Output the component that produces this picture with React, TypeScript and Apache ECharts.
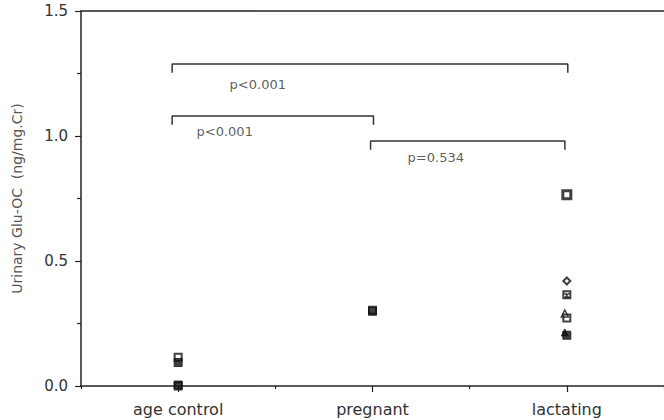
import React, { useEffect, useRef } from "react";
import * as echarts from "echarts";

// Categories along the x axis
const categories = ["age control", "pregnant", "lactating"];

// Y axis tick settings
const yMin = 0;
const yMax = 1.5;
const yInterval = 0.5;

// Marker data: [category index, Urinary Glu-OC value]
const hollowSquares: [number, number][] = [
  [0, 0.115],
  [0, 0.0],
  [1, 0.303],
  [2, 0.365],
  [2, 0.272],
];
const largeHollowSquares: [number, number][] = [[2, 0.765]];
const filledSquares: [number, number][] = [
  [0, 0.094],
  [0, 0.004],
  [1, 0.299],
  [2, 0.203],
];
const hollowDiamonds: [number, number][] = [[2, 0.42]];
const hollowTriangles: [number, number][] = [[2, 0.29]];
const filledTriangles: [number, number][] = [[2, 0.214]];
const crossMarks: [number, number][] = [[2, 0.362]];

// Significance brackets (x from, x to, bracket height, p-value text and its anchor)
const bracketFrom = [-0.031, -0.031, 0.99];
const bracketTo = [2.005, 1.005, 1.99];
const bracketY = [1.288, 1.08, 0.98];
const bracketDrop = 0.035;
const pTexts = ["p<0.001", "p<0.001", "p=0.534"];
const pTextX = [0.262, 0.092, 1.178];
const pTextY = [1.208, 1.02, 0.916];

const FONT = "DejaVu Sans";
const INK = "#222";
const TEXT = "#333";

export default function App() {
  const ref = useRef<HTMLDivElement>(null);

  useEffect(() => {
    if (!ref.current) return;
    const chart = echarts.init(ref.current, undefined, { renderer: "svg" });

    const markerBase = {
      type: "scatter" as const,
      xAxisIndex: 0,
      yAxisIndex: 0,
      z: 5,
    };

    const bracketSeries = bracketFrom.map((x0, i) => ({
      type: "line" as const,
      xAxisIndex: 0,
      yAxisIndex: 0,
      symbol: "none",
      silent: true,
      lineStyle: { color: "#333", width: 1.5 },
      data: [
        [x0, bracketY[i] - bracketDrop],
        [x0, bracketY[i]],
        [bracketTo[i], bracketY[i]],
        [bracketTo[i], bracketY[i] - bracketDrop],
      ],
      z: 3,
    }));

    chart.setOption({
      animation: false,
      backgroundColor: "#fff",
      grid: { left: 81, top: 11, width: 588, height: 375, containLabel: false },
      xAxis: [
        {
          type: "value",
          min: -0.5,
          max: 2.5,
          position: "bottom",
          show: false,
          axisLine: { onZero: false },
        },
        {
          type: "category",
          data: categories,
          position: "bottom",
          boundaryGap: true,
          axisLine: { show: true, onZero: false, lineStyle: { color: INK, width: 1.5 } },
          axisTick: { show: true, length: 3, lineStyle: { color: INK, width: 1.2 } },
          axisLabel: {
            show: true,
            margin: 15,
            fontFamily: FONT,
            fontSize: 16,
            color: TEXT,
          },
          splitLine: { show: false },
        },
        {
          type: "category",
          data: categories,
          position: "bottom",
          boundaryGap: true,
          axisLine: { show: false, onZero: false },
          axisTick: {
            show: true,
            alignWithLabel: true,
            length: 6,
            lineStyle: { color: INK, width: 1.2 },
          },
          axisLabel: { show: false },
          splitLine: { show: false },
        },
        {
          type: "category",
          data: categories,
          position: "top",
          axisLine: { show: true, onZero: false, lineStyle: { color: INK, width: 1.5 } },
          axisTick: { show: false },
          axisLabel: { show: false },
          splitLine: { show: false },
        },
      ],
      yAxis: [
        {
          type: "value",
          min: yMin,
          max: yMax,
          interval: yInterval,
          position: "left",
          name: "Urinary Glu-OC  (ng/mg.Cr)",
          nameLocation: "middle",
          nameGap: 57,
          nameTextStyle: { fontFamily: FONT, fontSize: 14, color: "#555" },
          axisLine: { show: true, onZero: false, lineStyle: { color: INK, width: 1.5 } },
          axisTick: { show: true, length: 6, lineStyle: { color: INK, width: 1.2 } },
          minorTick: {
            show: true,
            splitNumber: 2,
            length: 4,
            lineStyle: { color: INK, width: 1.2 },
          },
          axisLabel: {
            margin: 13,
            fontFamily: FONT,
            fontSize: 15,
            color: TEXT,
            formatter: (v: number) => v.toFixed(1),
          },
          splitLine: { show: false },
          minorSplitLine: { show: false },
        },
      ],
      series: [
        ...bracketSeries,
        {
          type: "scatter",
          xAxisIndex: 0,
          yAxisIndex: 0,
          symbolSize: 1,
          silent: true,
          itemStyle: { color: "rgba(0,0,0,0)" },
          label: {
            show: true,
            position: "right",
            distance: 0,
            fontFamily: FONT,
            fontSize: 13,
            color: TEXT,
            formatter: (p: any) => p.name,
          },
          data: pTexts.map((t, i) => ({ name: t, value: [pTextX[i], pTextY[i]] })),
          z: 4,
        },
        {
          ...markerBase,
          symbol: "rect",
          symbolSize: 8,
          itemStyle: { color: "#111", borderColor: "#111", borderWidth: 1 },
          data: filledSquares,
        },
        {
          ...markerBase,
          symbol: "rect",
          symbolSize: 7,
          itemStyle: { color: "rgba(255,255,255,0)", borderColor: "#111", borderWidth: 2 },
          data: hollowSquares,
          z: 6,
        },
        {
          ...markerBase,
          symbol: "rect",
          symbolSize: 8,
          itemStyle: { color: "#fff", borderColor: "#111", borderWidth: 3 },
          data: largeHollowSquares,
        },
        {
          ...markerBase,
          symbol: "diamond",
          symbolSize: 7,
          itemStyle: { color: "#fff", borderColor: "#111", borderWidth: 2 },
          data: hollowDiamonds,
        },
        {
          ...markerBase,
          symbol: "triangle",
          symbolSize: 7,
          symbolOffset: [-2, 0],
          itemStyle: { color: "#fff", borderColor: "#111", borderWidth: 1.5 },
          data: hollowTriangles,
        },
        {
          ...markerBase,
          symbol: "triangle",
          symbolSize: 7,
          symbolOffset: [-2, 0],
          itemStyle: { color: "#111", borderColor: "#111", borderWidth: 1 },
          data: filledTriangles,
        },
        {
          ...markerBase,
          symbol: "path://M0,0L10,10M10,0L0,10M5,0L5,10",
          symbolSize: 5,
          itemStyle: { color: "rgba(0,0,0,0)", borderColor: "#111", borderWidth: 1.2 },
          data: crossMarks,
          z: 7,
        },
      ],
    });

    return () => chart.dispose();
  }, []);

  return (
    <div
      ref={ref}
      style={{ position: "fixed", left: 0, top: 0, width: 664, height: 420 }}
    />
  );
}
